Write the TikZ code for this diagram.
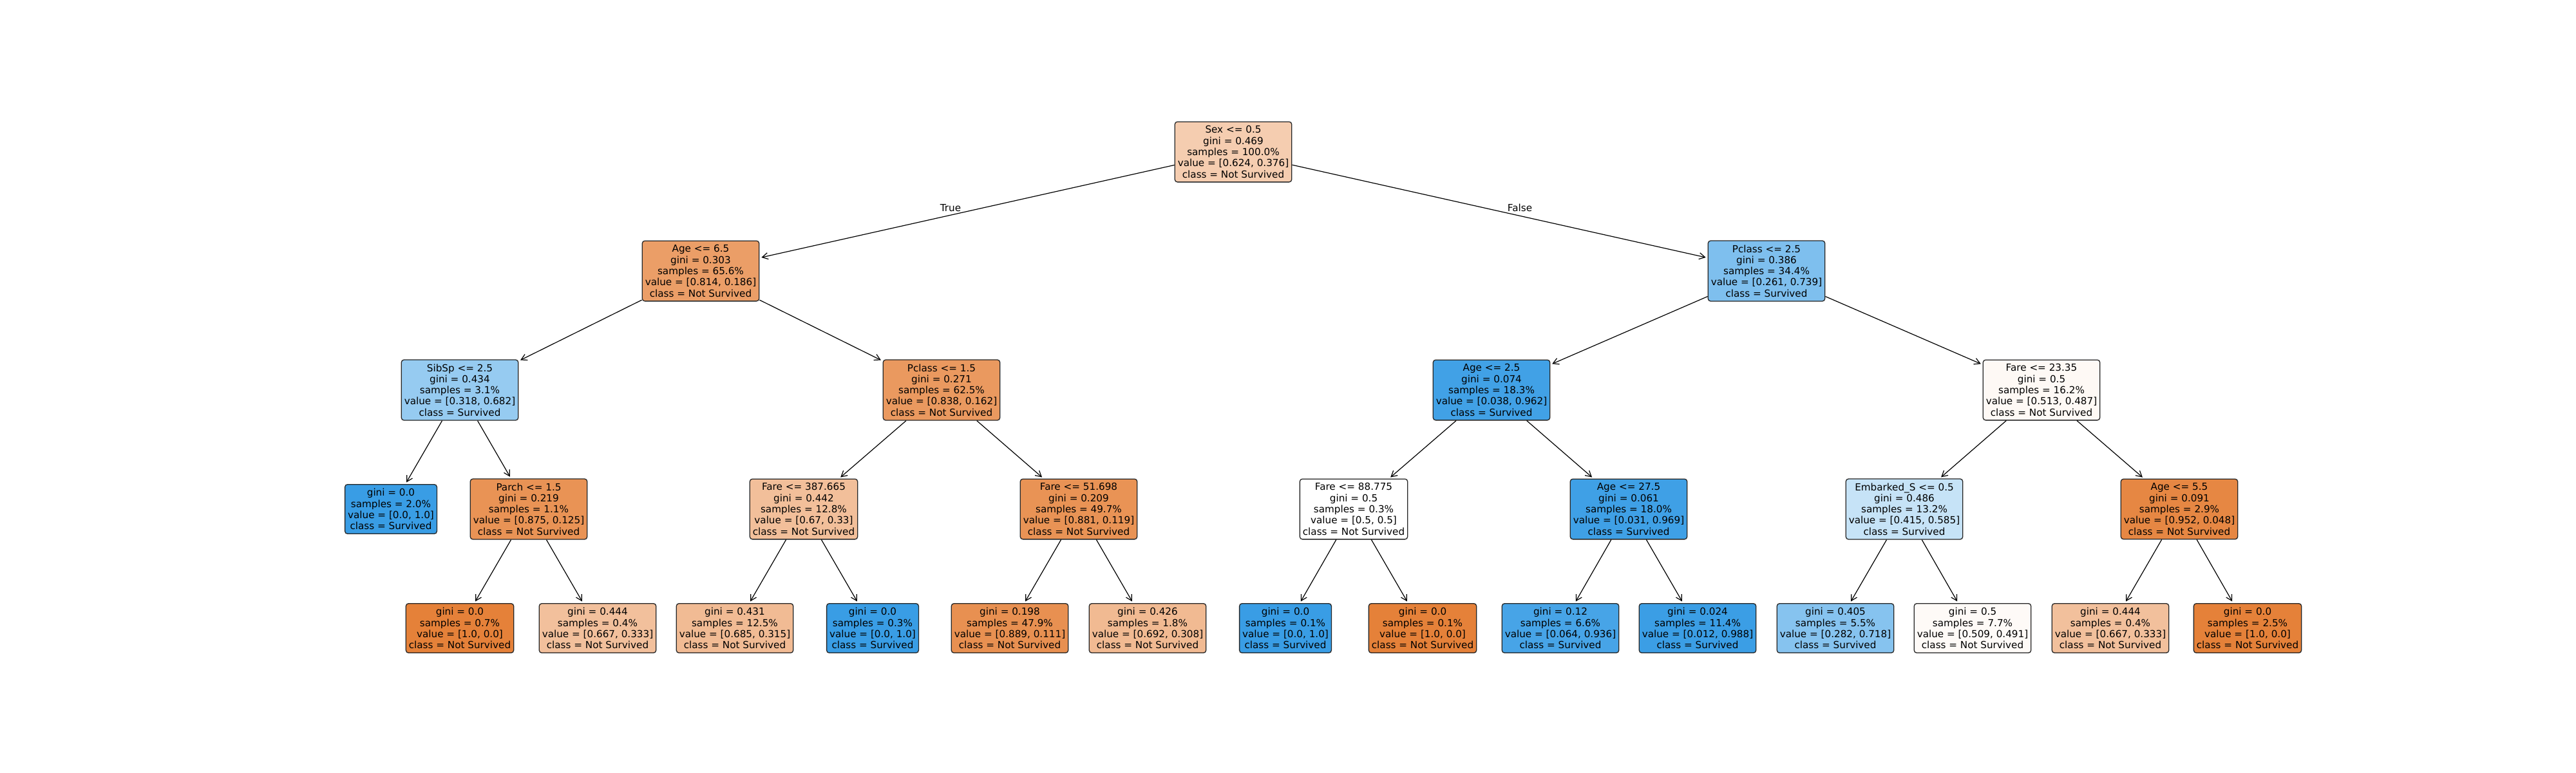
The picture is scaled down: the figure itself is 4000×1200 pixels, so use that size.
\documentclass[tikz,border=0pt]{standalone}
\usepackage{fontspec}
\setmainfont{DejaVu Sans}
\usetikzlibrary{arrows.meta}
\definecolor{notsurv}{RGB}{229,129,57}
\definecolor{surv}{RGB}{57,157,229}
\tikzset{
	dtnode/.style={draw=black!85, line width=1.3pt, rounded corners=4pt, align=center,
		inner xsep=4.5pt, inner ysep=6.5pt, font=\fontsize{15.2}{17.3}\selectfont},
	branch/.style={-{Straight Barb[length=9pt,width=10pt]}, line width=1.2pt, shorten >=3pt},
	tflabel/.style={inner sep=0pt, font=\fontsize{15.2}{17.3}\selectfont}
}

\begin{document}
\begin{tikzpicture}[x=1pt,y=-1pt]
			\useasboundingbox (0,0) rectangle (4000,1200);

			% root
			\node[dtnode, fill=notsurv!40] (sex) at (1915,236) {Sex <= 0.5\\gini = 0.469\\samples = 100.0\%\\value = [0.624, 0.376]\\class = Not Survived};

			% first level
			\node[dtnode, fill=notsurv!77] (agea) at (1088,421) {Age <= 6.5\\gini = 0.303\\samples = 65.6\%\\value = [0.814, 0.186]\\class = Not Survived};
			\node[dtnode, fill=surv!65] (pclassa) at (2743,421) {Pclass <= 2.5\\gini = 0.386\\samples = 34.4\%\\value = [0.261, 0.739]\\class = Survived};

			\draw[branch] (sex) -- (agea);
			\draw[branch] (sex) -- (pclassa);
			\node[tflabel] (ltrue) at (1476,323) {True};
			\node[tflabel] (lfalse) at (2360,323) {False};

			% second level
			\node[dtnode, fill=surv!53] (sibsp) at (714,606) {SibSp <= 2.5\\gini = 0.434\\samples = 3.1\%\\value = [0.318, 0.682]\\class = Survived};
			\node[dtnode, fill=notsurv!81] (pclassb) at (1462,606) {Pclass <= 1.5\\gini = 0.271\\samples = 62.5\%\\value = [0.838, 0.162]\\class = Not Survived};
			\node[dtnode, fill=surv!96] (ageb) at (2316,606) {Age <= 2.5\\gini = 0.074\\samples = 18.3\%\\value = [0.038, 0.962]\\class = Survived};
			\node[dtnode, fill=notsurv!5] (farea) at (3170,606) {Fare <= 23.35\\gini = 0.5\\samples = 16.2\%\\value = [0.513, 0.487]\\class = Not Survived};

			\draw[branch] (agea) -- (sibsp);
			\draw[branch] (agea) -- (pclassb);
			\draw[branch] (pclassa) -- (ageb);
			\draw[branch] (pclassa) -- (farea);

			% third level
			\node[dtnode, fill=surv] (leafa) at (607,791) {gini = 0.0\\samples = 2.0\%\\value = [0.0, 1.0]\\class = Survived};
			\node[dtnode, fill=notsurv!86] (parch) at (821,791) {Parch <= 1.5\\gini = 0.219\\samples = 1.1\%\\value = [0.875, 0.125]\\class = Not Survived};
			\node[dtnode, fill=notsurv!51] (fareb) at (1248,791) {Fare <= 387.665\\gini = 0.442\\samples = 12.8\%\\value = [0.67, 0.33]\\class = Not Survived};
			\node[dtnode, fill=notsurv!86] (farec) at (1675,791) {Fare <= 51.698\\gini = 0.209\\samples = 49.7\%\\value = [0.881, 0.119]\\class = Not Survived};
			\node[dtnode, fill=white] (fared) at (2102,791) {Fare <= 88.775\\gini = 0.5\\samples = 0.3\%\\value = [0.5, 0.5]\\class = Not Survived};
			\node[dtnode, fill=surv!97] (agec) at (2529,791) {Age <= 27.5\\gini = 0.061\\samples = 18.0\%\\value = [0.031, 0.969]\\class = Survived};
			\node[dtnode, fill=surv!29] (embs) at (2957,791) {Embarked\_S <= 0.5\\gini = 0.486\\samples = 13.2\%\\value = [0.415, 0.585]\\class = Survived};
			\node[dtnode, fill=notsurv!95] (aged) at (3384,791) {Age <= 5.5\\gini = 0.091\\samples = 2.9\%\\value = [0.952, 0.048]\\class = Not Survived};

			\draw[branch] (sibsp) -- (leafa);
			\draw[branch] (sibsp) -- (parch);
			\draw[branch] (pclassb) -- (fareb);
			\draw[branch] (pclassb) -- (farec);
			\draw[branch] (ageb) -- (fared);
			\draw[branch] (ageb) -- (agec);
			\draw[branch] (farea) -- (embs);
			\draw[branch] (farea) -- (aged);

			% fourth level (leaves)
			\node[dtnode, fill=notsurv] (leafb) at (714,976) {gini = 0.0\\samples = 0.7\%\\value = [1.0, 0.0]\\class = Not Survived};
			\node[dtnode, fill=notsurv!50] (leafc) at (928,976) {gini = 0.444\\samples = 0.4\%\\value = [0.667, 0.333]\\class = Not Survived};
			\node[dtnode, fill=notsurv!54] (leafd) at (1141,976) {gini = 0.431\\samples = 12.5\%\\value = [0.685, 0.315]\\class = Not Survived};
			\node[dtnode, fill=surv] (leafe) at (1355,976) {gini = 0.0\\samples = 0.3\%\\value = [0.0, 1.0]\\class = Survived};
			\node[dtnode, fill=notsurv!88] (leaff) at (1568,976) {gini = 0.198\\samples = 47.9\%\\value = [0.889, 0.111]\\class = Not Survived};
			\node[dtnode, fill=notsurv!55] (leafg) at (1782,976) {gini = 0.426\\samples = 1.8\%\\value = [0.692, 0.308]\\class = Not Survived};
			\node[dtnode, fill=surv] (leafh) at (1996,976) {gini = 0.0\\samples = 0.1\%\\value = [0.0, 1.0]\\class = Survived};
			\node[dtnode, fill=notsurv] (leafi) at (2209,976) {gini = 0.0\\samples = 0.1\%\\value = [1.0, 0.0]\\class = Not Survived};
			\node[dtnode, fill=surv!93] (leafj) at (2423,976) {gini = 0.12\\samples = 6.6\%\\value = [0.064, 0.936]\\class = Survived};
			\node[dtnode, fill=surv!99] (leafk) at (2636,976) {gini = 0.024\\samples = 11.4\%\\value = [0.012, 0.988]\\class = Survived};
			\node[dtnode, fill=surv!61] (leafl) at (2850,976) {gini = 0.405\\samples = 5.5\%\\value = [0.282, 0.718]\\class = Survived};
			\node[dtnode, fill=notsurv!4] (leafm) at (3063,976) {gini = 0.5\\samples = 7.7\%\\value = [0.509, 0.491]\\class = Not Survived};
			\node[dtnode, fill=notsurv!50] (leafn) at (3277,976) {gini = 0.444\\samples = 0.4\%\\value = [0.667, 0.333]\\class = Not Survived};
			\node[dtnode, fill=notsurv] (leafo) at (3490,976) {gini = 0.0\\samples = 2.5\%\\value = [1.0, 0.0]\\class = Not Survived};

			\draw[branch] (parch) -- (leafb);
			\draw[branch] (parch) -- (leafc);
			\draw[branch] (fareb) -- (leafd);
			\draw[branch] (fareb) -- (leafe);
			\draw[branch] (farec) -- (leaff);
			\draw[branch] (farec) -- (leafg);
			\draw[branch] (fared) -- (leafh);
			\draw[branch] (fared) -- (leafi);
			\draw[branch] (agec) -- (leafj);
			\draw[branch] (agec) -- (leafk);
			\draw[branch] (embs) -- (leafl);
			\draw[branch] (embs) -- (leafm);
			\draw[branch] (aged) -- (leafn);
			\draw[branch] (aged) -- (leafo);

		\end{tikzpicture}
\end{document}
